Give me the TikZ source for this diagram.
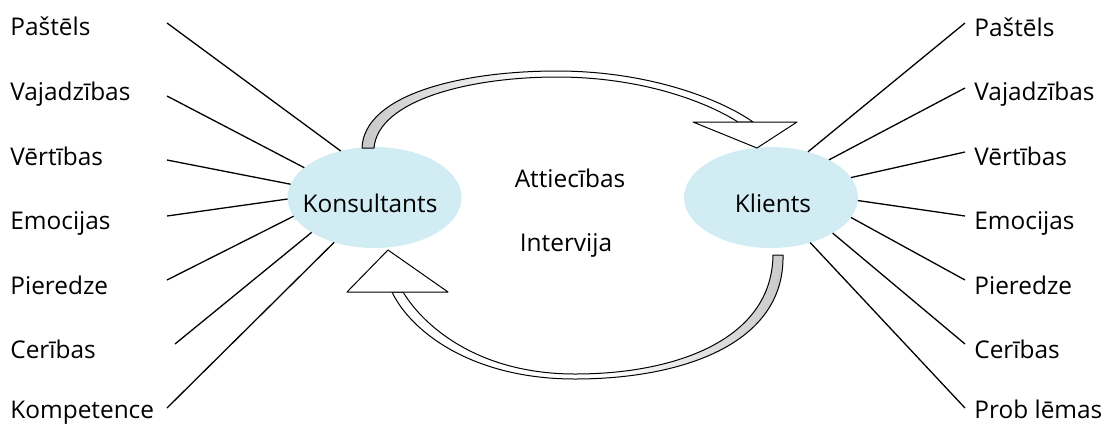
\documentclass[tikz,border=0pt]{standalone}
\usepackage{fontspec}
\setmainfont{Open Sans}
\usetikzlibrary{shapes.geometric}
\definecolor{ellblue}{RGB}{210,236,244}
\definecolor{bandgray}{RGB}{200,200,200}
\begin{document}
\begin{tikzpicture}[x=0.5pt,y=-0.5pt,
  lbl/.style={anchor=base west,inner sep=0pt,font=\fontsize{12.2}{14}\selectfont},
  ctr/.style={anchor=base,inner sep=0pt,font=\fontsize{12.2}{14}\selectfont},
  bubble/.style={ellipse,fill=ellblue,minimum width=87pt,minimum height=50.5pt,inner sep=0pt,outer sep=0pt},
  conn/.style={line width=0.65pt},
  bandline/.style={line width=0.5pt,line join=round}]
\useasboundingbox (0,0) rectangle (1104,425);

% ellipses
\node[bubble] (kons) at (374.5,197.5) {};
\node[bubble] (klie) at (771,197.5) {};
\node[ctr] (konsT) at (370,212) {Konsultants};
\node[ctr] (klieT) at (773,212) {Klients};
\node[ctr] (att) at (570,187) {Attiecības};
\node[ctr] (int) at (566,251) {Intervija};

% left labels
\node[lbl] (L1) at (10,35) {Paštēls};
\node[lbl] (L2) at (10,100) {Vajadzības};
\node[lbl] (L3) at (10,165) {Vērtības};
\node[lbl] (L4) at (10,229) {Emocijas};
\node[lbl] (L5) at (10,294) {Pieredze};
\node[lbl] (L6) at (10,358) {Cerības};
\node[lbl] (L7) at (10,418) {Kompetence};
\coordinate (a1) at (167,23);
\coordinate (a2) at (167,96);
\coordinate (a3) at (167,160);
\coordinate (a4) at (167,216);
\coordinate (a5) at (167,280);
\coordinate (a6) at (175,344);
\coordinate (a7) at (167,408);
\draw[conn] (a1) -- (kons.126.4);
\draw[conn] (a2) -- (kons.157);
\draw[conn] (a3) -- (kons.171);
\draw[conn] (a4) -- (kons.181.7);
\draw[conn] (a5) -- (kons.193.3);
\draw[conn] (a6) -- (kons.209.3);
\draw[conn] (a7) -- (kons.228.6);

% right labels
\node[lbl] (R1) at (974,36) {Paštēls};
\node[lbl] (R2) at (974,100) {Vajadzības};
\node[lbl] (R3) at (974,165) {Vērtības};
\node[lbl] (R4) at (974,229) {Emocijas};
\node[lbl] (R5) at (974,294) {Pieredze};
\node[lbl] (R6) at (974,358) {Cerības};
\node[lbl] (R7) at (974,418) {Prob lēmas};
\coordinate (b1) at (965,23);
\coordinate (b2) at (965,88);
\coordinate (b3) at (965,152);
\coordinate (b4) at (965,216);
\coordinate (b5) at (965,280);
\coordinate (b6) at (965,344);
\coordinate (b7) at (965,408);
\draw[conn] (klie.51) -- (b1);
\draw[conn] (klie.33.1) -- (b2);
\draw[conn] (klie.14.9) -- (b3);
\draw[conn] (klie.358.3) -- (b4);
\draw[conn] (klie.346.5) -- (b5);
\draw[conn] (klie.330) -- (b6);
\draw[conn] (klie.311.7) -- (b7);

% top arrow band
\def\topband{(362,148) .. controls (364,95) and (460,71) .. (557,71)
  .. controls (650,71) and (722,100) .. (753,122)
  -- (738,122) .. controls (705,101) and (640,77) .. (557,77)
  .. controls (470,77) and (378,100) .. (374,148) -- cycle}
\fill[white] \topband;
\begin{scope}
  \clip \topband;
  \shade[left color=bandgray,right color=white] (360,60) rectangle (540,150);
\end{scope}
\draw[bandline] \topband;
\draw[bandline,fill=white] (693,122) -- (797,122) -- (757,148) -- cycle;

% bottom arrow band
\def\botband{(783,255) .. controls (785,345) and (680,379) .. (575,379)
  .. controls (470,379) and (410,330) .. (392,292)
  -- (403,292) .. controls (425,328) and (480,374) .. (575,374)
  .. controls (675,374) and (772,340) .. (773,255) -- cycle}
\fill[white] \botband;
\begin{scope}
  \clip \botband;
  \shade[left color=white,right color=bandgray] (600,250) rectangle (790,385);
\end{scope}
\draw[bandline] \botband;
\draw[bandline,fill=white] (347,292) -- (448,292) -- (388,250) -- cycle;
\end{tikzpicture}
\end{document}
